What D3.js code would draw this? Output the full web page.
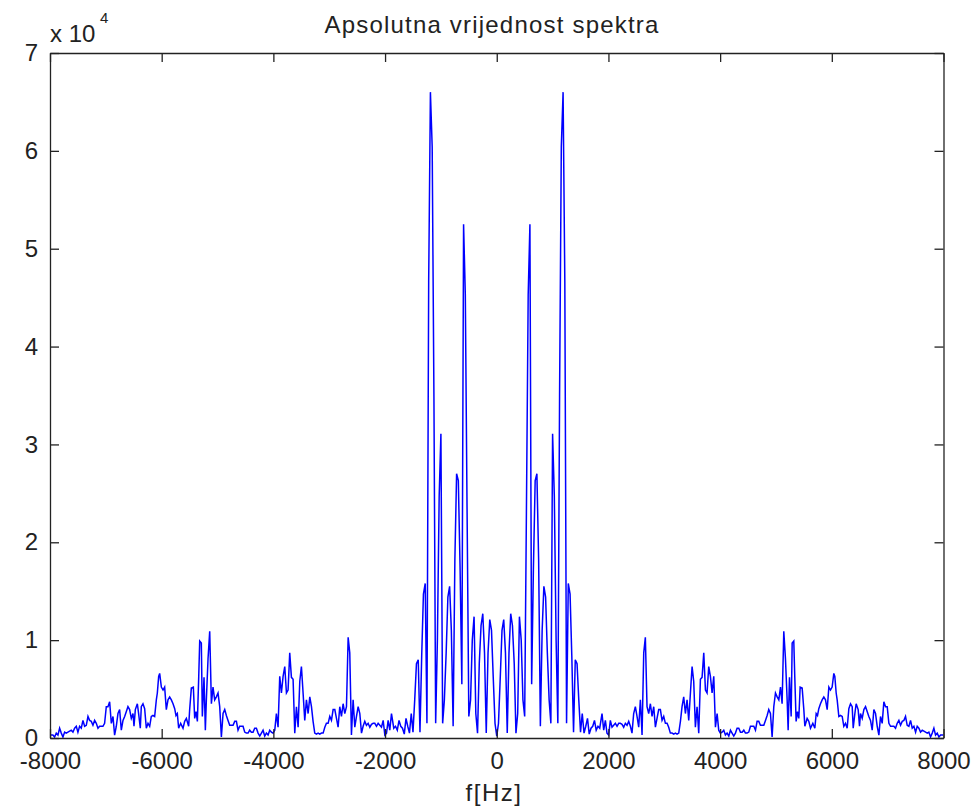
<!DOCTYPE html>
<html>
<head>
<meta charset="utf-8">
<script src="https://cdn.jsdelivr.net/npm/d3@7"></script>
<style>
  body { margin: 0; background: #fff; }
  text { font-family: "Liberation Sans", Arial, Helvetica, sans-serif; fill: #222; }
</style>
</head>
<body>
<script>
// |X(f)|, in units of 10^4, positive frequencies (Hz).
// The spectrum of a real signal is symmetric, the negative half is its mirror.
var freqCentre = [0,31,63,94,125,156,188,219,250,281,
  313,344,375,406,438,469,500,531,563,594,
  625,656,688,719,750,781,813,844,875,906,
  938,969,1000,1031,1063,1094,1125,1156,1188,1219,
  1250,1281,1313,1344,1375,1406,1438,1469,1500,1531,
  1563,1594,1625,1656,1688,1719,1750,1781,1813,1844];
var magCentre = [0.02,0.15,0.62,1.10,1.21,0.87,0.05,0.87,1.27,1.15,
  0.76,0.05,0.25,1.24,1.00,0.39,0.22,2.30,4.53,5.25,
  0.55,1.72,2.63,2.70,1.82,0.12,1.10,1.55,1.44,0.87,
  0.39,0.15,3.11,2.47,1.00,0.15,3.49,6.04,6.60,4.66,
  0.15,1.58,1.47,0.84,0.06,0.80,0.76,0.39,0.06,0.25,
  0.05,0.12,0.20,0.04,0.10,0.12,0.18,0.08,0.12,0.10];

var freqMid = [1885,1915,1945,1974,2004,2034,2064,2094,2124,2154,
  2184,2213,2243,2273,2303,2333,2363,2393,2422,2452,
  2482,2512,2542,2572,2602,2632,2661,2691,2721,2751,
  2781,2811,2841,2870,2900,2930,2960,2990,3020,3050,
  3079,3109,3139,3169,3199,3229,3259,3289,3318,3348,
  3378,3408,3438,3468,3498,3527,3557,3587,3617,3647,
  3677,3707,3737,3766,3796,3826,3856,3886,3916,3946,
  3975,4005,4035,4065];
var magMid = [0.25,0.08,0.18,0.05,0.03,0.18,0.11,0.13,0.15,0.12,
  0.15,0.15,0.14,0.11,0.15,0.13,0.17,0.12,0.05,0.25,
  0.32,0.22,0.11,0.39,0.03,0.87,1.03,0.32,0.25,0.35,
  0.22,0.32,0.11,0.20,0.29,0.29,0.18,0.22,0.15,0.15,
  0.11,0.05,0.05,0.04,0.05,0.04,0.05,0.17,0.32,0.42,
  0.25,0.39,0.18,0.46,0.73,0.58,0.11,0.32,0.05,0.60,
  0.62,0.87,0.49,0.46,0.73,0.63,0.46,0.63,0.11,0.25,
  0.08,0.05,0.06,0.08];

var freqHigh = [4095,4125,4155,4185,4214,4244,4274,4304,4334,4364,
  4394,4424,4453,4483,4513,4543,4573,4603,4633,4662,
  4692,4722,4752,4782,4812,4842,4871,4901,4931,4961,
  4991,5021,5051,5081,5110,5140,5170,5200,5218,5242,
  5272,5290,5319,5337,5361,5385,5409,5433,5469,5499,
  5517,5558,5588,5618,5660,5696,5720,5744,5767,5797,
  5827,5857,5887,5917,5947,5976,6006,6036,6054,6078,
  6096,6126,6156,6186,6215,6245,6275,6305,6335,6365,
  6383,6413,6436,6472,6496,6514,6544,6574,6604,6633,
  6663,6693,6723,6753,6783,6813,6843,6872,6902,6932,
  6962,6992,7022,7052,7082,7111,7141,7171,7201,7231,
  7261,7291,7320,7350,7380,7410,7440,7470,7500,7529,
  7559,7589,7619,7649,7679,7709,7738,7768,7798,7828,
  7858,7888,7918,7948,7978,8000];
var magHigh = [0.03,0.05,0.02,0.08,0.05,0.02,0.05,0.10,0.10,0.06,
  0.06,0.08,0.05,0.05,0.06,0.12,0.12,0.12,0.08,0.17,
  0.17,0.13,0.13,0.13,0.18,0.23,0.29,0.25,0.01,0.32,
  0.46,0.42,0.39,0.52,0.35,1.09,0.81,0.39,0.08,0.62,
  0.22,0.97,0.99,0.62,0.17,0.27,0.20,0.52,0.51,0.29,
  0.12,0.20,0.17,0.10,0.15,0.10,0.25,0.23,0.30,0.35,
  0.39,0.42,0.39,0.29,0.52,0.49,0.52,0.66,0.63,0.46,
  0.39,0.22,0.23,0.22,0.12,0.15,0.10,0.30,0.35,0.32,
  0.10,0.25,0.35,0.29,0.12,0.25,0.20,0.29,0.32,0.27,
  0.22,0.18,0.08,0.29,0.25,0.12,0.03,0.22,0.15,0.37,
  0.32,0.32,0.15,0.12,0.12,0.12,0.10,0.15,0.18,0.13,
  0.17,0.18,0.22,0.13,0.12,0.18,0.10,0.12,0.06,0.12,
  0.10,0.06,0.08,0.07,0.06,0.05,0.06,0.01,0.05,0.10,
  0.03,0.05,0.01,0.03,0.03,0.03];

var xTicks = [-8000,-6000,-4000,-2000,0,2000,4000,6000,8000];
var yTicks = [0,1,2,3,4,5,6,7];
var titleText = "Apsolutna vrijednost spektra";
var xLabel = "f[Hz]";

window.onload = function(){
  var width = 975, height = 810;
  var left = 50, right = 943.5, top = 53, bottom = 738;

  var freq = freqCentre.concat(freqMid, freqHigh);
  var mag = magCentre.concat(magMid, magHigh);
  var pos = freq.map(function(f,i){ return [f, mag[i]]; });
  var neg = pos.filter(function(d){ return d[0] > 0; })
               .map(function(d){ return [-d[0], d[1]]; })
               .reverse();
  var spectrum = neg.concat(pos);

  var svg = d3.select("body").append("svg")
      .attr("width", width)
      .attr("height", height);
  svg.append("rect").attr("width", width).attr("height", height).attr("fill", "#fff");

  var x = d3.scaleLinear().domain([-8000, 8000]).range([left, right]);
  var y = d3.scaleLinear().domain([0, 7]).range([bottom, top]);

  svg.append("clipPath").attr("id", "clip")
    .append("rect")
      .attr("x", left).attr("y", top)
      .attr("width", right - left).attr("height", bottom - top);

  var line = d3.line()
      .x(function(d){ return x(d[0]); })
      .y(function(d){ return y(d[1]); });

  svg.append("path")
      .datum(spectrum)
      .attr("clip-path", "url(#clip)")
      .attr("fill", "none")
      .attr("stroke", "#0000ff")
      .attr("stroke-width", 1.5)
      .attr("d", line);

  function styleAxis(g){
    g.selectAll("path.domain").attr("stroke", "#222").attr("stroke-width", 1.3);
    g.selectAll(".tick line").attr("stroke", "#222").attr("stroke-width", 1.3);
    g.selectAll("text").attr("fill", "#222")
      .style("font-family", "'Liberation Sans', Arial, Helvetica, sans-serif")
      .style("font-size", "24px");
  }

  svg.append("g")
      .attr("transform", "translate(0," + bottom + ")")
      .call(d3.axisBottom(x).tickValues(xTicks).tickSize(-9).tickSizeOuter(0)
            .tickPadding(14).tickFormat(function(d){ return String(d); }))
      .call(styleAxis);

  svg.append("g")
      .attr("transform", "translate(0," + top + ")")
      .call(d3.axisTop(x).tickValues(xTicks).tickSize(-9).tickSizeOuter(0).tickFormat(""))
      .call(styleAxis);

  var yAxis = svg.append("g")
      .attr("transform", "translate(" + left + ",0)")
      .call(d3.axisLeft(y).tickValues(yTicks).tickSize(-9).tickSizeOuter(0)
            .tickPadding(12).tickFormat(function(d){ return String(d); }))
      .call(styleAxis);
  yAxis.selectAll("text").attr("dy", "0.32em");

  svg.append("g")
      .attr("transform", "translate(" + right + ",0)")
      .call(d3.axisRight(y).tickValues(yTicks).tickSize(-9).tickSizeOuter(0).tickFormat(""))
      .call(styleAxis);

  // scale factor above the y axis
  svg.append("text")
      .attr("x", left).attr("y", 42)
      .style("font-size", "24px")
      .text("x 10");
  svg.append("text")
      .attr("x", left + 50).attr("y", 23)
      .style("font-size", "15px")
      .text("4");

  svg.append("text")
      .attr("x", 492).attr("y", 33)
      .attr("text-anchor", "middle")
      .style("font-size", "24px")
      .style("letter-spacing", "1.2px")
      .text(titleText);

  svg.append("text")
      .attr("x", 494).attr("y", 801)
      .attr("text-anchor", "middle")
      .style("font-size", "24px")
      .style("letter-spacing", "1.5px")
      .text(xLabel);
};
</script>
</body>
</html>
